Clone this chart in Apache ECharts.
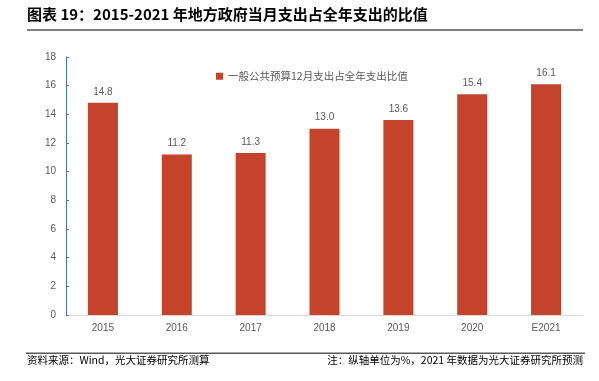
<!DOCTYPE html>
<html>
<head>
<meta charset="utf-8">
<script src="https://cdn.jsdelivr.net/npm/echarts@6/dist/echarts.min.js"></script>
<style>
html,body{margin:0;padding:0;background:#fff;}
#chart{width:599px;height:381px;}
</style>
</head>
<body>
<div id="chart"></div>
<script>
const categories = ['2015','2016','2017','2018','2019','2020','E2021'];
const values = [14.8, 11.2, 11.3, 13.0, 13.6, 15.4, 16.1];
const seriesName = '一般公共预算12月支出占全年支出比值';
const titleText = '图表 19：2015-2021 年地方政府当月支出占全年支出的比值';
const sourceText = '资料来源：Wind，光大证券研究所测算';
const noteText = '注：纵轴单位为%，2021 年数据为光大证券研究所预测';

const chart = echarts.init(document.getElementById('chart'));
const font = '"Noto Sans CJK SC", "Noto Sans", sans-serif';
chart.setOption({
  animation: false,
  textStyle: {fontFamily: font},
  grid: {left: 66, right: 16, top: 57, bottom: 66, containLabel: false},
  legend: {
    left: 211, top: 66,
    icon: 'rect', itemWidth: 7, itemHeight: 7, itemGap: 4,
    textStyle: {color: '#595959', fontSize: 10.5, fontFamily: font},
    data: [seriesName]
  },
  xAxis: {
    type: 'category',
    data: categories,
    axisLine: {lineStyle: {color: '#D9D9D9', width: 1}},
    axisTick: {inside: true, length: 4, lineStyle: {color: '#D9D9D9'}},
    axisLabel: {color: '#595959', fontSize: 10, margin: 8, fontFamily: 'Liberation Sans, Arial, sans-serif'}
  },
  yAxis: {
    type: 'value',
    min: 0, max: 18, interval: 2,
    splitLine: {show: false},
    axisLine: {show: true, lineStyle: {color: '#4472C4', width: 1}},
    axisTick: {show: true, inside: true, length: 3, lineStyle: {color: '#4472C4'}},
    axisLabel: {color: '#595959', fontSize: 10, margin: 10, fontFamily: 'Liberation Sans, Arial, sans-serif'}
  },
  series: [{
    name: seriesName,
    type: 'bar',
    data: values,
    barWidth: 30,
    itemStyle: {color: '#C4432A'},
    label: {
      show: true, position: 'top', distance: 6,
      color: '#595959', fontSize: 10,
      fontFamily: 'Liberation Sans, Arial, sans-serif',
      formatter: p => p.value.toFixed(1)
    }
  }],
  graphic: [
    {type: 'text', left: 27, top: 7, style: {text: titleText, font: 'bold 15px ' + font, fill: '#000'}},
    {type: 'rect', shape: {x: 27, y: 29, width: 556, height: 2}, style: {fill: '#808080'}},
    {type: 'rect', shape: {x: 26, y: 352.5, width: 559, height: 1.5}, style: {fill: '#595959'}},
    {type: 'text', left: 27, top: 355, style: {text: sourceText, font: '10.5px ' + font, fill: '#000'}},
    {type: 'text', right: 16, top: 355, style: {text: noteText, font: '10.5px ' + font, fill: '#000'}}
  ]
});
</script>
</body>
</html>
